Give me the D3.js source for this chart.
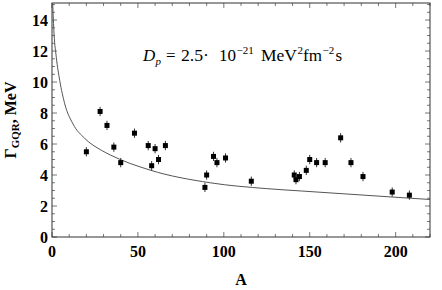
<!DOCTYPE html>
<meta charset="utf-8">
<script src="https://d3js.org/d3.v7.min.js"></script>
<style>
body { margin: 0; background: #fff; }
svg { display: block; font-family: "Liberation Serif", "DejaVu Serif", serif; }
.tick-label { font-weight: bold; font-size: 16px; }
.frame { fill: none; stroke: #333; stroke-width: 1; }
</style>
<svg width="442" height="290"></svg>
<script>
// measured widths of the giant quadrupole resonance
const massNumbers = [20, 28, 32, 36, 40, 48, 56, 58, 60, 62, 66, 89, 90, 94, 96, 101, 116,
  141, 142, 144, 148, 150, 154, 159, 168, 174, 181, 198, 208];
const widths = [5.5, 8.1, 7.2, 5.8, 4.8, 6.7, 5.9, 4.6, 5.7, 5.0, 5.9, 3.2, 4.0, 5.2, 4.8, 5.1, 3.6,
  4.0, 3.7, 3.9, 4.3, 5.0, 4.8, 4.8, 6.4, 4.8, 3.9, 2.9, 2.7];
const errors = massNumbers.map(() => 0.3);

// theory curve
const curveA = [0.4, 1.2, 2.5, 4.5, 7.4, 12.2, 19, 28.7, 34, 57, 92, 125, 145, 198, 220];
const curveG = [15.1, 13.1, 11.6, 10.1, 8.6, 7.3, 6.37, 5.6, 5.29, 4.32, 3.5, 3.12, 2.97, 2.58, 2.42];

const xTicks = [0, 50, 100, 150, 200];
const yTicks = [0, 2, 4, 6, 8, 10, 12, 14];

const pLeft = 52, pRight = 430, pTop = 3, pBottom = 237;

const svg = d3.select('svg');

const x = d3.scaleLinear().domain([0, 220]).range([pLeft, pRight]);
const y = d3.scaleLinear().domain([0, 15.1]).range([pBottom, pTop]);

svg.append('defs').append('clipPath').attr('id', 'plot-clip')
  .append('rect')
  .attr('x', pLeft).attr('y', pTop)
  .attr('width', pRight - pLeft).attr('height', pBottom - pTop);

// ticks (inward, on all four sides)
const xMinor = d3.range(0, 221, 10);
const yMinor = d3.range(0, 15.01, 0.5);

const tickG = svg.append('g').attr('stroke', '#555').attr('stroke-width', 0.8);

xMinor.forEach(v => {
  const len = v % 50 === 0 ? 5 : 3;
  tickG.append('line').attr('x1', x(v)).attr('x2', x(v)).attr('y1', pBottom).attr('y2', pBottom - len);
  tickG.append('line').attr('x1', x(v)).attr('x2', x(v)).attr('y1', pTop).attr('y2', pTop + len);
});
yMinor.forEach(v => {
  const len = v % 2 === 0 ? 5 : 3;
  tickG.append('line').attr('y1', y(v)).attr('y2', y(v)).attr('x1', pLeft).attr('x2', pLeft + len);
  tickG.append('line').attr('y1', y(v)).attr('y2', y(v)).attr('x1', pRight).attr('x2', pRight - len);
});

svg.append('rect').attr('class', 'frame')
  .attr('x', pLeft).attr('y', pTop)
  .attr('width', pRight - pLeft).attr('height', pBottom - pTop);

// tick labels
svg.selectAll('.xlab').data(xTicks).enter().append('text')
  .attr('class', 'tick-label')
  .attr('x', d => x(d))
  .attr('y', 257)
  .attr('text-anchor', 'middle')
  .text(d => d);

svg.selectAll('.ylab').data(yTicks).enter().append('text')
  .attr('class', 'tick-label')
  .attr('x', pLeft - 4)
  .attr('y', d => y(d) + 5.5)
  .attr('text-anchor', 'end')
  .text(d => d);

// theory curve
const line = d3.line()
  .x((d, i) => x(curveA[i]))
  .y((d, i) => y(curveG[i]))
  .curve(d3.curveMonotoneX);

svg.append('path')
  .datum(curveA)
  .attr('clip-path', 'url(#plot-clip)')
  .attr('d', line)
  .attr('fill', 'none')
  .attr('stroke', '#555')
  .attr('stroke-width', 1);

// data points with error bars
const pts = svg.append('g');
massNumbers.forEach((a, i) => {
  pts.append('line')
    .attr('x1', x(a)).attr('x2', x(a))
    .attr('y1', y(widths[i] - errors[i])).attr('y2', y(widths[i] + errors[i]))
    .attr('stroke', '#333').attr('stroke-width', 1);
  pts.append('rect')
    .attr('x', x(a) - 2.5).attr('y', y(widths[i]) - 2.5)
    .attr('width', 5).attr('height', 5)
    .attr('fill', '#000');
});

// annotation, pieces placed like the Mathematica label
const noteY = 61;
const note = svg.append('g').attr('font-size', 17);
const piece = (px, dy, txt, opts = {}) => {
  const t = note.append('text').attr('x', px).attr('y', noteY + dy).text(txt);
  if (opts.italic) t.attr('font-style', 'italic');
  if (opts.small) t.attr('font-size', 11);
  if (opts.len) t.attr('textLength', opts.len).attr('lengthAdjust', 'spacingAndGlyphs');
  return t;
};
piece(143, 0, 'D', { italic: true });
piece(155.5, 4, 'p', { italic: true, small: true });
piece(166, 0, '=');
piece(181, 0, '2.5\u00b7', { len: 28 });
piece(219, 0, '10');
piece(236.5, -7, '\u221221', { small: true });
piece(261, 0, 'MeV', { len: 36 });
piece(297.5, -7, '2', { small: true });
piece(303, 0, 'fm');
piece(322.5, -7, '\u22122', { small: true });
piece(335.5, 0, 's');

// axis titles
svg.append('text')
  .attr('x', (pLeft + pRight) / 2).attr('y', 285)
  .attr('text-anchor', 'middle')
  .attr('font-weight', 'bold').attr('font-size', 16)
  .text('A');

const yTitle = svg.append('text')
  .attr('transform', `translate(16,${(pTop + pBottom) / 2}) rotate(-90)`)
  .attr('text-anchor', 'middle')
  .attr('font-weight', 'bold').attr('font-size', 16);
yTitle.append('tspan').text('\u0393');
yTitle.append('tspan').attr('font-size', 11).attr('dy', 3).text('GQR');
yTitle.append('tspan').attr('dy', -3).text(', MeV');
</script>
